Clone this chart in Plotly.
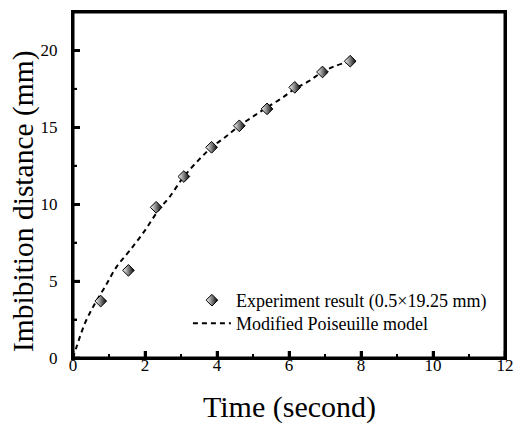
import plotly.graph_objects as go

time_exp = [0.77, 1.54, 2.31, 3.08, 3.85, 4.62, 5.39, 6.16, 6.93, 7.70]
dist_exp = [3.7, 5.7, 9.8, 11.8, 13.7, 15.1, 16.2, 17.6, 18.6, 19.3]

# Modified Poiseuille model curve
time_model = [0, 0.1, 0.33, 0.61, 0.89, 1.21, 1.58, 2.0, 2.37, 2.69, 3.08, 3.5,
              3.85, 4.25, 4.62, 5.0, 5.39, 5.8, 6.16, 6.55, 6.93, 7.3, 7.7]
dist_model = [0, 0.73, 2.25, 3.55, 4.63, 5.93, 7.0, 8.3, 9.6, 10.5, 11.8, 12.9,
              13.7, 14.4, 15.1, 15.7, 16.3, 16.9, 17.5, 18.0, 18.6, 19.0, 19.3]

x_ticks = [0, 2, 4, 6, 8, 10, 12]
y_ticks = [0, 5, 10, 15, 20]

x_title = "Time (second)"
y_title = "Imbibition distance (mm)"
exp_name = "Experiment result (0.5×19.25 mm)"
model_name = "Modified Poiseuille model"

FONT = "Liberation Serif, Times New Roman, serif"
W, H = 513, 425
ML, MR, MT, MB = 73, 8, 12, 67

x_minor = [(a + b) / 2 for a, b in zip(x_ticks, x_ticks[1:])]
y_minor = [(a + b) / 2 for a, b in zip(y_ticks, y_ticks[1:])] + [y_ticks[-1] + (y_ticks[1] - y_ticks[0]) / 2]

fig = go.Figure()

fig.add_trace(go.Scatter(
    x=time_model, y=dist_model, mode="lines",
    line=dict(color="black", width=2, dash="5px,4px", shape="spline"),
    name=model_name, legend="legend2",
))

fig.add_trace(go.Scatter(
    x=time_exp, y=dist_exp, mode="markers",
    marker=dict(symbol="diamond", size=9, color="white",
                gradient=dict(type="horizontal", color="black"),
                line=dict(color="black", width=1)),
    name=exp_name, legend="legend",
))

axis_common = dict(
    showgrid=False, zeroline=False, showline=True, linecolor="black",
    linewidth=2, mirror=True, ticks="inside", tickwidth=2.5, ticklen=7,
    tickcolor="black", automargin=False, tickmode="linear",
    ticklabeloverflow="allow",
    tickfont=dict(family=FONT, size=17, color="black"),
)

legend_common = dict(
    xanchor="left", yanchor="top", bgcolor="rgba(0,0,0,0)", itemwidth=38,
    font=dict(family=FONT, size=18, color="black"),
)

# frame and tick marks as shapes (positioned through the axes' scales)
shapes = [dict(type="rect", xref="paper", yref="paper", x0=0, x1=1, y0=0, y1=1,
               line=dict(color="black", width=3), layer="above")]
for v in x_ticks:
    shapes.append(dict(type="line", xref="x", yref="paper", ysizemode="pixel", yanchor=0,
                       x0=v, x1=v, y0=0, y1=7, line=dict(color="black", width=2.5)))
for v in x_minor:
    shapes.append(dict(type="line", xref="x", yref="paper", ysizemode="pixel", yanchor=0,
                       x0=v, x1=v, y0=0, y1=4, line=dict(color="black", width=2)))
for v in y_ticks:
    shapes.append(dict(type="line", xref="paper", yref="y", xsizemode="pixel", xanchor=0,
                       x0=0, x1=7, y0=v, y1=v, line=dict(color="black", width=2.5)))
for v in y_minor:
    shapes.append(dict(type="line", xref="paper", yref="y", xsizemode="pixel", xanchor=0,
                       x0=0, x1=4, y0=v, y1=v, line=dict(color="black", width=2)))

fig.update_layout(
    width=W, height=H,
    margin=dict(l=ML, r=MR, t=MT, b=MB, autoexpand=False),
    paper_bgcolor="white", plot_bgcolor="white",
    font=dict(family=FONT, color="black"),
    xaxis=dict(
        range=[0, 12], tick0=x_ticks[0], dtick=x_ticks[1] - x_ticks[0],
        minor=dict(ticks="inside", ticklen=4, tickwidth=2,
                   dtick=(x_ticks[1] - x_ticks[0]) / 2, tickcolor="black"),
        ticklabelstandoff=-9,
        **axis_common,
    ),
    yaxis=dict(
        range=[0, 22.5], tick0=y_ticks[0], dtick=y_ticks[1] - y_ticks[0],
        minor=dict(ticks="inside", ticklen=4, tickwidth=2,
                   dtick=(y_ticks[1] - y_ticks[0]) / 2, tickcolor="black"),
        ticklabelstandoff=10,
        **axis_common,
    ),
    shapes=shapes,
    showlegend=True,
    legend=dict(x=0.266, y=0.2197, **legend_common),
    legend2=dict(x=0.266, y=0.1532, **legend_common),
    annotations=[
        dict(text=x_title, xref="paper", yref="paper", x=0.5, y=0,
             xanchor="center", yanchor="middle", yshift=-49, showarrow=False,
             font=dict(family=FONT, size=30, color="black")),
        dict(text=y_title, xref="paper", yref="paper", x=0, y=0.4538,
             xanchor="center", yanchor="middle", xshift=-49, textangle=-90,
             showarrow=False, font=dict(family=FONT, size=29.5, color="black")),
    ],
)

fig.write_html("out.html", config={"displayModeBar": False},
               post_script="document.body.style.margin='0';")
